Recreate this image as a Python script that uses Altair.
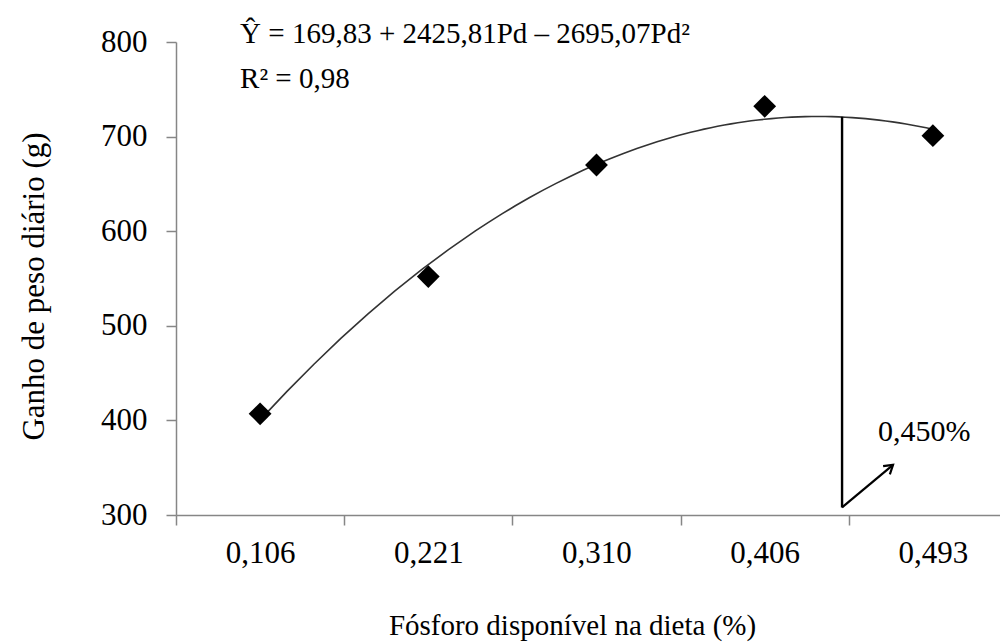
import altair as alt
import pandas as pd

# ---- data ----
phosphorus = [0.106, 0.221, 0.310, 0.406, 0.493]
gain = [407, 552, 670, 732, 701]
tick_labels = ["0,106", "0,221", "0,310", "0,406", "0,493"]
equation_lines = ["Ŷ = 169,83 + 2425,81Pd – 2695,07Pd²", "R² = 0,98"]
equation_x = [-0.119, -0.119]
equation_y = [799, 751]
optimum_label = ["0,450%"]
optimum_x = [3.46]          # category-position of the 0,450 % marker
optimum_top = [721]
optimum_bottom = [308]
arrow_tip_x = [3.763]
arrow_tip_y = [353]
label_x = [3.674]
label_y = [378]
x_title = "Fósforo disponível na dieta (%)"
y_title = "Ganho de peso diário (g)"

idx = list(range(len(phosphorus)))
df = pd.DataFrame({"idx": idx, "gain": gain, "pd": phosphorus})

FONT = "'Times New Roman', 'Liberation Serif', serif"
GREY = "#868686"

boundaries = [i - 0.5 for i in idx]
tick_vals = sorted(set(boundaries + idx))
label_array = "[" + ",".join("'" + t + "'" for t in tick_labels) + "]"

x_scale = alt.Scale(domain=[-0.5, 4.399], nice=False, zero=False)
y_scale = alt.Scale(domain=[300, 800], nice=False, zero=False)

x_axis = alt.Axis(
    values=tick_vals,
    labelExpr="datum.value % 1 === 0 ? " + label_array + "[datum.value] : ''",
    tickOpacity={"condition": {"test": "datum.value % 1 !== 0", "value": 1}, "value": 0},
    tickSize=10,
    labelFontSize=31,
    labelBaseline="alphabetic",
    labelPadding=37,
    labelOverlap=False,
    labelFlush=False,
    title=x_title,
    titleFontSize=29,
    titleX=396,
    titleY=119,
    titleAlign="center",
    titleBaseline="alphabetic",
)
y_axis = alt.Axis(
    values=[300, 400, 500, 600, 700, 800],
    tickSize=10,
    labelFontSize=31,
    labelPadding=19,
    labelOverlap=False,
    labelFlush=False,
    title=y_title,
    titleFontSize=31,
    titleX=-133,
    titleY=244,
    titleAlign="center",
    titleBaseline="alphabetic",
    titleAngle=270,
)


def X(field):
    return alt.X(field, type="quantitative", scale=x_scale, axis=x_axis)


def Y(field):
    return alt.Y(field, type="quantitative", scale=y_scale, axis=y_axis)


curve = (
    alt.Chart(df)
    .transform_regression("idx", "gain", method="poly", order=2, extent=[0, 4])
    .mark_line(color="#333333", strokeWidth=1.6)
    .encode(x=X("idx"), y=Y("gain"))
)

points = (
    alt.Chart(df)
    .mark_point(shape="diamond", filled=True, size=520, color="black", opacity=1)
    .encode(x=X("idx"), y=Y("gain"))
)

vline_df = pd.DataFrame({"idx": optimum_x, "gain": optimum_top, "gain2": optimum_bottom})
vline = (
    alt.Chart(vline_df)
    .mark_rule(color="black", strokeWidth=2.4)
    .encode(x=X("idx"), y=Y("gain"), y2="gain2")
)

arrow_df = pd.DataFrame({"idx": optimum_x, "idx2": arrow_tip_x,
                         "gain": optimum_bottom, "gain2": arrow_tip_y})
arrow = (
    alt.Chart(arrow_df)
    .mark_rule(color="black", strokeWidth=2.2)
    .encode(x=X("idx"), x2="idx2", y=Y("gain"), y2="gain2")
)

head_df = pd.DataFrame({"idx": arrow_tip_x, "gain": arrow_tip_y})
head = (
    alt.Chart(head_df)
    .mark_point(shape="M-0.75,1.2L0,0L0.75,1.2", filled=False, size=200,
                angle=50.5, color="black", strokeWidth=2.2, opacity=1)
    .encode(x=X("idx"), y=Y("gain"))
)

opt_text_df = pd.DataFrame({"idx": label_x, "gain": label_y, "text": optimum_label})
opt_text = (
    alt.Chart(opt_text_df)
    .mark_text(align="left", baseline="alphabetic", font=FONT, fontSize=30, color="black")
    .encode(x=X("idx"), y=Y("gain"), text="text:N")
)

eq_df = pd.DataFrame({"idx": equation_x, "gain": equation_y, "text": equation_lines})
eq_text = (
    alt.Chart(eq_df)
    .mark_text(align="left", baseline="alphabetic", font=FONT, fontSize=29, color="black")
    .encode(x=X("idx"), y=Y("gain"), text="text:N")
)

chart = (
    alt.layer(curve, vline, arrow, head, points, opt_text, eq_text)
    .properties(
        width=824,
        height=473,
        autosize=alt.AutoSizeParams(type="none"),
        padding={"left": 168, "top": 34, "right": 0, "bottom": 128},
        background="white",
    )
    .configure_view(stroke=None)
    .configure_axis(
        grid=False,
        domainColor=GREY,
        tickColor=GREY,
        domainWidth=1.5,
        tickWidth=1.5,
        labelFont=FONT,
        titleFont=FONT,
        labelColor="black",
        titleColor="black",
        titleFontWeight="normal",
    )
)

chart.save("out.html", embed_options={"renderer": "svg", "actions": False})
